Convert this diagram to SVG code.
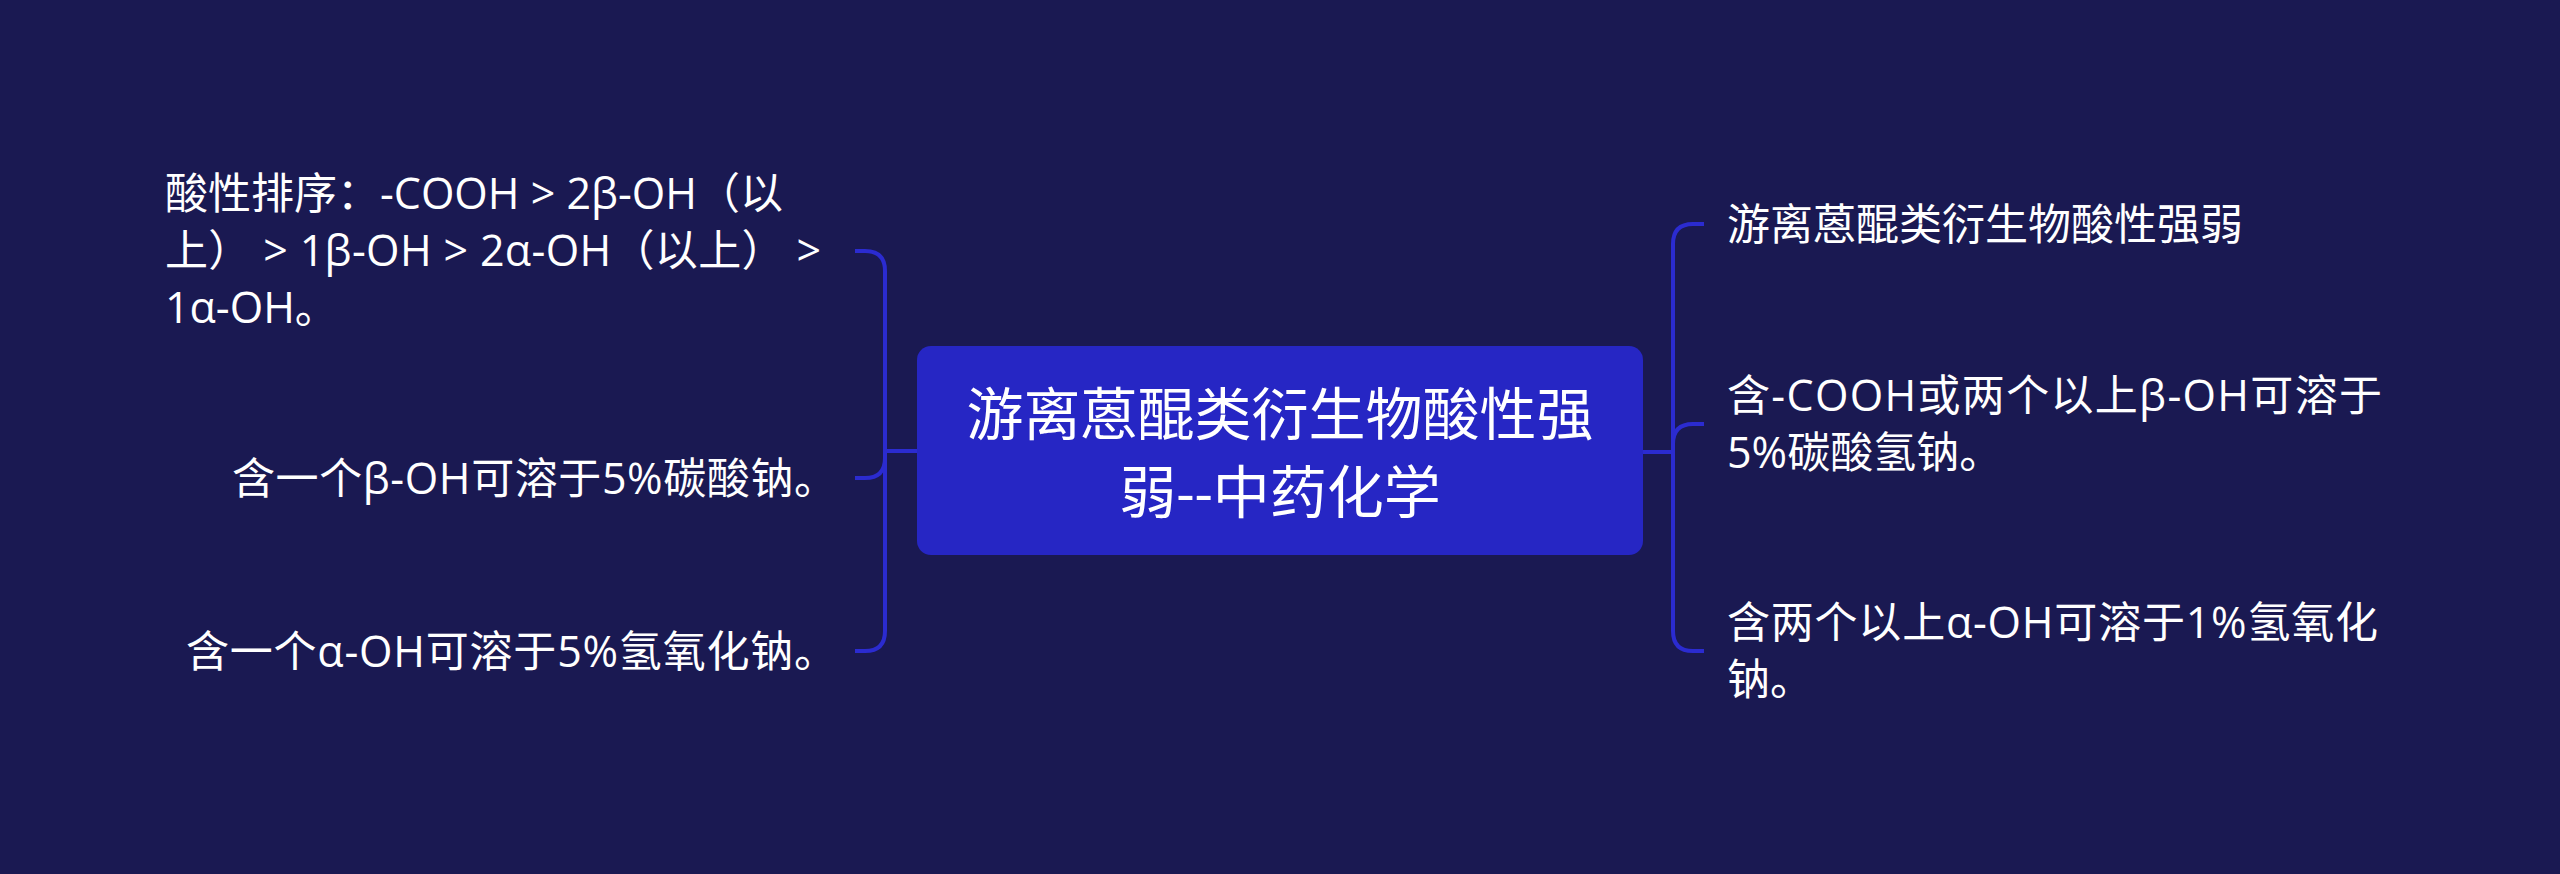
<svg xmlns="http://www.w3.org/2000/svg" width="2560" height="874" viewBox="0 0 2560 874">
<style>
.t{font-family:"Open Sans","Noto Sans CJK SC",sans-serif;fill:#ffffff;font-size:43px}
.c{font-family:"Open Sans","Noto Sans CJK SC",sans-serif;fill:#ffffff;font-size:57px;text-anchor:middle}
.e{text-anchor:end}
.ln{fill:none;stroke:#2b2bd0;stroke-width:4;stroke-linecap:butt}
</style>
<rect width="2560" height="874" fill="#1a1952"/>
<g id="connectors">
<path class="ln" d="M917 451 L885 451"/>
<path class="ln" d="M885 451 L885 271 Q885 251 865 251 L855 251"/>
<path class="ln" d="M885 451 L885 458 Q885 478 865 478 L855 478"/>
<path class="ln" d="M885 451 L885 631 Q885 651 865 651 L855 651"/>
<path class="ln" d="M1643 452 L1673 452"/>
<path class="ln" d="M1673 452 L1673 244 Q1673 224 1693 224 L1704 224"/>
<path class="ln" d="M1673 452 L1673 444 Q1673 424 1693 424 L1704 424"/>
<path class="ln" d="M1673 452 L1673 631 Q1673 651 1693 651 L1704 651"/>
</g>
<g id="root">
<rect x="917" y="346" width="726" height="209" rx="14" fill="#2626c4"/>
<text class="c" x="1280" y="435">游离蒽醌类衍生物酸性强</text>
<text class="c" x="1280" y="513">弱--中药化学</text>
</g>
<g id="left1">
<text class="t" x="165" y="209">酸性排序：-COOH &gt; 2β-OH（以</text>
<text class="t" x="165" y="266" textLength="656">上） &gt; 1β-OH &gt; 2α-OH（以上） &gt;</text>
<text class="t" x="165" y="323">1α-OH。</text>
</g>
<g id="left2">
<text class="t e" x="837" y="494" textLength="605">含一个β-OH可溶于5%碳酸钠。</text>
</g>
<g id="left3">
<text class="t e" x="837" y="667" textLength="651">含一个α-OH可溶于5%氢氧化钠。</text>
</g>
<g id="right1">
<text class="t" x="1727" y="240">游离蒽醌类衍生物酸性强弱</text>
</g>
<g id="right2">
<text class="t" x="1727" y="411" textLength="655">含-COOH或两个以上β-OH可溶于</text>
<text class="t" x="1727" y="468">5%碳酸氢钠。</text>
</g>
<g id="right3">
<text class="t" x="1727" y="638" textLength="651">含两个以上α-OH可溶于1%氢氧化</text>
<text class="t" x="1727" y="695">钠。</text>
</g>
</svg>
